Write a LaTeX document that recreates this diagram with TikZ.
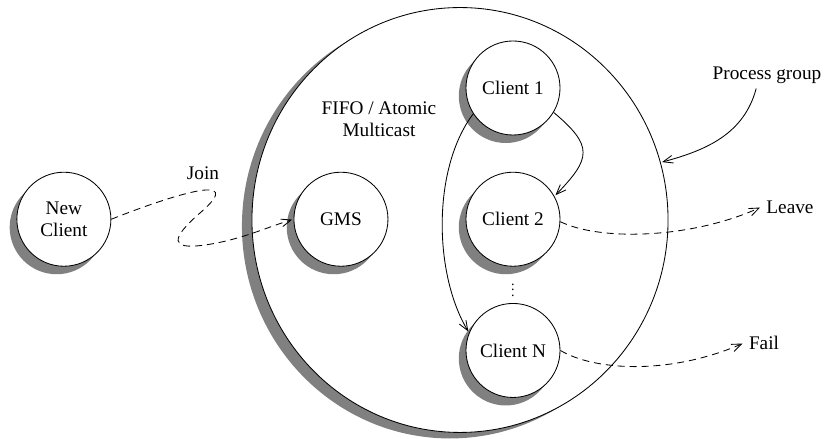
\documentclass[tikz,border=0pt]{standalone}
\usepackage{fontspec}
\setmainfont{Liberation Serif}
\usepackage{tikz}
\usetikzlibrary{positioning,shapes.geometric,arrows.meta,shadows}

\begin{document}
\begin{tikzpicture}[%
    ->,
    >={Straight Barb[length=7pt,width=5.5pt]}, shorten >=1pt,
    x=0.025cm, y=0.025cm, line width=0.6pt,
    node distance=3.28cm, align=center,
    every node/.style={font=\fontsize{13.7}{15.5}\selectfont},
    client/.style={circle, draw, fill=white, minimum size=2.35cm, inner sep=0pt,
      drop shadow={shadow xshift=-0.18cm, shadow yshift=-0.2cm, fill=black!50, opacity=1}},
    group/.style={ellipse, draw, fill=white, minimum width=10.4cm, minimum height=10.62cm,
      drop shadow={shadow xshift=-0.25cm, shadow yshift=-0.15cm, fill=black!50, opacity=1}},
    msg/.style={dash pattern=on 5pt off 3.5pt}
  ]
    \useasboundingbox (0,0) rectangle (825,439);

    % the process group
    \node [group] (grp) at (460,219) {};

    \node [client] (c1) at (513,351) {Client 1};
    
    \node [client] (c2) [below of=c1] {Client 2};
    
    \node [client] (cn) [below of=c2] {Client N};
    
    \node [client] (gms) [left of=c2, node distance=4.3cm] {GMS};
    
    \node [client] (nc) [left of=gms, node distance=6.925cm] {New\\Client};

    \node (dots) at (513,153) {\fontsize{10}{10}\selectfont$\vdots$};
    \node (fifo) at (379,320) {FIFO / Atomic\\Multicast};
    
    % labels outside the group
    \node (pg) at (767,364) {Process group};
    \node (join) at (203,266) {Join};
    \node (leave) at (790,232) {Leave};
    \node (fail) at (764,96) {Fail};
    
    
          \path (c1.-31) edge [out=-40, in=46, looseness=1.6] (c2.29)
          (c1.213) edge [out=233, in=121, looseness=0.8] (cn.158)
          ([xshift=-0.27cm]pg.south) edge [out=-105, in=15] (grp.16)
          ;

    % dashed messages
    \draw [msg] (c2.-3) .. controls (600,198) and (690,200) .. (leave.west);
    \draw [msg] (cn.east) .. controls (595,68) and (670,64) .. (fail.west);
    \draw [msg] (nc.east) .. controls (170,243) and (250,269) .. (200,226)
          .. controls (170,200) and (170,189) .. (205,194)
          .. controls (240,199) and (265,211) .. (gms.west);
  \end{tikzpicture}
\end{document}
